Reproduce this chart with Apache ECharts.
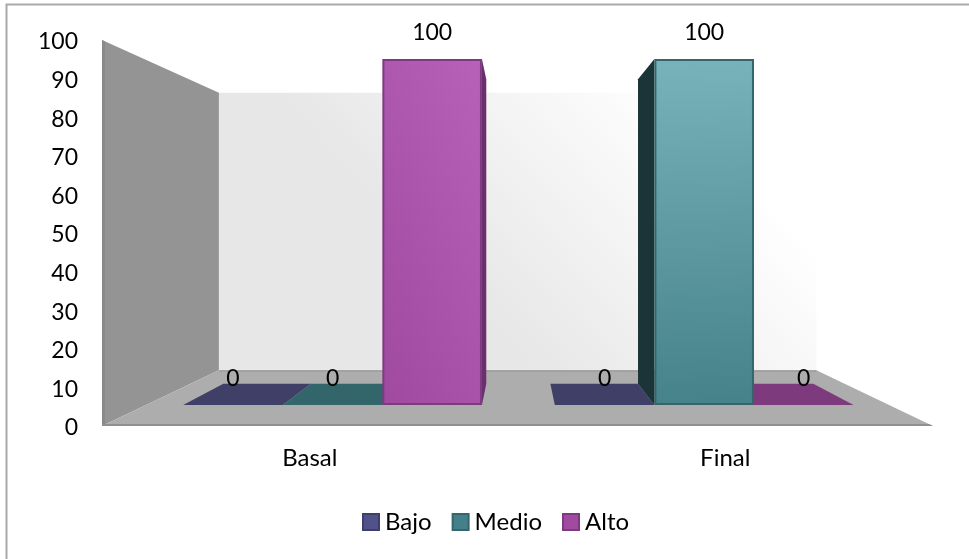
<!DOCTYPE html>
<html>
<head>
<meta charset="utf-8">
<style>html,body{margin:0;padding:0;background:#fff}#chart{width:969px;height:559px}</style>
<script src="https://cdn.jsdelivr.net/npm/echarts@6/dist/echarts.min.js"></script>
</head>
<body>
<div id="chart"></div>
<script>
// Chart values
const categories = ['Basal', 'Final'];
const seriesNames = ['Bajo', 'Medio', 'Alto'];
const bajo = [0, 0];
const medio = [0, 100];
const alto = [100, 0];
const yTicks = { min: 0, max: 100, interval: 10 };

// Colours per series: legend swatch, front face, outline, side face, flat (zero height) face
const palette = {
  Bajo:  { swatch: '#52528a', edge: '#3f3f6c', from: '#52528a', to: '#6a6aa5', side: '#2c2c4c', flat: '#403f68', dir: [0, 1, 0, 0] },
  Medio: { swatch: '#43808a', edge: '#34666c', from: '#46828a', to: '#78b2ba', side: '#1b3437', flat: '#33666a', dir: [0.1, 1, 0, 0] },
  Alto:  { swatch: '#a04ba0', edge: '#7d3a80', from: '#9f4a9f', to: '#b762b8', side: '#6b2f6e', flat: '#7d3a7d', dir: [0, 1, 2.1, 0.737] }
};

// Perspective of the 3D box: everything recedes toward one vanishing point
const vanish = [518, 228];
const wallDepth = 0.281;
const barDepth = 0.12;
const barRatio = 0.268;
const font = 'Lato, "Open Sans", sans-serif';

const recede = (p, t) => [p[0] + (vanish[0] - p[0]) * t, p[1] + (vanish[1] - p[1]) * t];
const poly = (points, fill, z2, extra) => ({
  type: 'polygon', shape: { points }, style: Object.assign({ fill }, extra || {}), z2, silent: true
});

// Side wall, back wall and floor, derived from the value axis rectangle
function renderBox(params) {
  const c = params.coordSys;
  const tl = [c.x, c.y], bl = [c.x, c.y + c.height];
  const tr = [c.x + c.width, c.y], br = [c.x + c.width, c.y + c.height];
  const [btl, bbl, btr, bbr] = [tl, bl, tr, br].map(p => recede(p, wallDepth));
  return {
    type: 'group',
    children: [
      poly([btl, btr, bbr, bbl], new echarts.graphic.LinearGradient(0.45, 0.8, 0.8, 0.1, [
        { offset: 0, color: '#e7e7e7' }, { offset: 1, color: '#ffffff' }
      ]), 1),
      poly([tl, btl, bbl, bl], '#949494', 2),
      poly([tl, [tl[0] + 3, tl[1] + 1.5], [bl[0] + 3, bl[1] - 1.5], bl], '#8a8a8a', 2),
      poly([bl, bbl, bbr, br], '#adadad', 3),
      poly([[bbl[0], bbl[1]], [bbr[0], bbr[1]], [bbr[0], bbr[1] + 1.5], [bbl[0], bbl[1] + 1.5]], '#9c9c9c', 3),
      poly([[bl[0], bl[1] - 2], [br[0] - 4, br[1] - 2], br, bl], '#8f8f8f', 3)
    ]
  };
}

// One prism per data point, offset inside its category band
function barRenderer(name, slot) {
  const pal = palette[name];
  return function (params, api) {
    const cat = api.value(0), val = api.value(1);
    const base = api.coord([cat, 0]), top = api.coord([cat, val]);
    const w = api.size([1, 0])[0] * barRatio;
    const x0 = base[0] + (slot - 0.5) * w, x1 = x0 + w;
    const children = [];
    const label = {
      type: 'text', z2: 30, silent: true,
      style: { text: String(val), x: (x0 + x1) / 2, y: top[1] - 26, fill: '#000', font: '23px ' + font, align: 'center', verticalAlign: 'middle' }
    };
    if (val === 0) {
      const a = [x0, base[1]], b = [x1, base[1]];
      children.push(poly([a, b, recede(b, barDepth), recede(a, barDepth)], pal.flat, 5));
    } else {
      const edgeX = x1 < vanish[0] ? x1 : x0;
      const ft = [edgeX, top[1]], fb = [edgeX, base[1]];
      children.push(poly([ft, recede(ft, barDepth), recede(fb, barDepth), fb], pal.side, 10));
      children.push({
        type: 'rect', z2: 11, silent: true,
        shape: { x: x0 + 1, y: top[1] + 1, width: w - 2, height: base[1] - top[1] - 2 },
        style: {
          fill: new echarts.graphic.LinearGradient(pal.dir[0], pal.dir[1], pal.dir[2], pal.dir[3], [
            { offset: 0, color: pal.from }, { offset: 1, color: pal.to }
          ]),
          stroke: pal.edge, lineWidth: 2
        }
      });
    }
    children.push(label);
    return { type: 'group', children };
  };
}

const seriesValues = { Bajo: bajo, Medio: medio, Alto: alto };
const barSeries = seriesNames.map((name, i) => ({
  name,
  type: 'custom',
  xAxisIndex: 1,
  yAxisIndex: 1,
  z: 3,
  silent: true,
  itemStyle: { color: palette[name].swatch, borderColor: palette[name].edge, borderWidth: 1 },
  data: categories.map((_, c) => [c, seriesValues[name][c]]),
  encode: { x: 0, y: 1 },
  renderItem: barRenderer(name, i - 1)
}));

const chart = echarts.init(document.getElementById('chart'), null, { renderer: 'canvas' });
chart.setOption({
  animation: false,
  backgroundColor: '#ffffff',
  textStyle: { fontFamily: font },
  graphic: [{
    type: 'polyline', silent: true, z: 0,
    shape: { points: [[6.5, 559], [6.5, 4.5], [969, 4.5]] },
    style: { stroke: '#a9a9a9', lineWidth: 2, fill: null }
  }],
  legend: {
    data: seriesNames,
    left: 357,
    top: 505,
    icon: 'rect',
    itemWidth: 16,
    itemHeight: 16,
    itemGap: 20,
    textStyle: { fontSize: 24, color: '#000', fontFamily: font, padding: [0, 0, 0, 1] },
    selectedMode: false
  },
  grid: [
    { left: 102, right: 36, top: 40, bottom: 133 },
    { left: 146.75, right: 79, top: 59, bottom: 154 }
  ],
  xAxis: [
    {
      type: 'category', gridIndex: 0, data: categories,
      axisLine: { show: false }, axisTick: { show: false },
      axisLabel: { color: '#000', fontSize: 24, margin: 20, fontFamily: font }
    },
    { type: 'category', gridIndex: 1, data: categories, show: false }
  ],
  yAxis: [
    {
      type: 'value', gridIndex: 0, min: yTicks.min, max: yTicks.max, interval: yTicks.interval,
      axisLine: { show: false }, axisTick: { show: false }, splitLine: { show: false },
      axisLabel: { color: '#000', fontSize: 23, margin: 24, fontFamily: font, verticalAlign: 'top', lineHeight: 4 }
    },
    { type: 'value', gridIndex: 1, min: yTicks.min, max: yTicks.max, show: false, splitLine: { show: false } }
  ],
  series: [{
    name: 'caja',
    type: 'custom',
    xAxisIndex: 0,
    yAxisIndex: 0,
    z: 1,
    silent: true,
    data: [[0, 0]],
    encode: { x: 0, y: 1 },
    clip: false,
    renderItem: renderBox
  }].concat(barSeries)
});
</script>
</body>
</html>
